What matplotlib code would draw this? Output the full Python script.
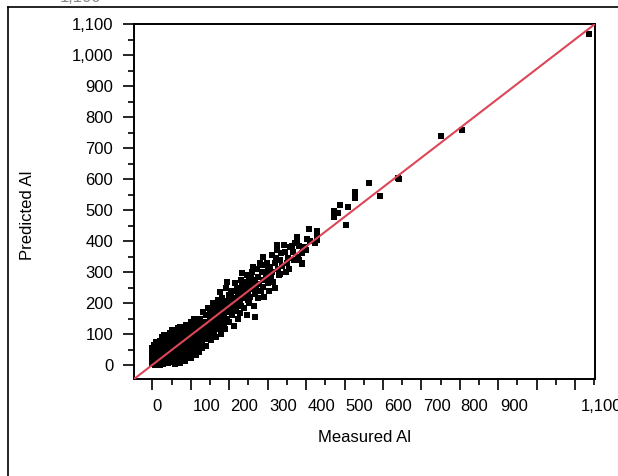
import numpy as np
import matplotlib
matplotlib.use('Agg')
import matplotlib.pyplot as plt
from matplotlib.lines import Line2D
from matplotlib.ticker import MultipleLocator

plt.rcParams['font.family'] = ['Liberation Sans', 'DejaVu Sans']

# axis setup
x_range = [-48, 1152]
y_range = [-45, 1100]
x_ticks = [0, 100, 200, 300, 400, 500, 600, 700, 800, 900, 1000, 1100]
x_tick_labels = ['0', '100', '200', '300', '400', '500', '600', '700', '800', '900', '1,100']
x_label_pos = [12, 142, 238, 340, 439, 538, 640, 741, 837, 941, 1168]
y_ticks = [0, 100, 200, 300, 400, 500, 600, 700, 800, 900, 1000, 1100]
y_tick_labels = ['0', '100', '200', '300', '400', '500', '600', '700', '800', '900', '1,000', '1,100']

# fitted line (corner to corner)
fit_x = [-48, 1152]
fit_y = [-45, 1100]

# dense cloud near the origin (measured, predicted)
core_points = [
    (0, 2), (0, 12), (0, 23), (0, 34), (0, 45), (0, 56),
    (6, 0), (6, 10), (6, 20), (6, 31), (6, 42), (6, 52), (6, 63),
    (13, 1), (13, 12), (13, 24), (13, 35), (13, 46), (13, 57), (13, 68),
    (20, 0), (20, 11), (20, 22), (20, 33), (20, 44), (20, 55), (20, 66), (20, 78),
    (27, 3), (27, 14), (27, 25), (27, 37), (27, 48), (27, 59), (27, 70), (27, 84),
    (34, 5), (34, 16), (34, 28), (34, 39), (34, 50), (34, 61), (34, 73), (34, 88),
    (41, 6), (41, 18), (41, 29), (41, 40), (41, 52), (41, 63), (41, 75), (41, 86), (41, 97),
    (48, 9), (48, 20), (48, 31), (48, 43), (48, 54), (48, 65), (48, 77), (48, 90),
    (55, 11), (55, 22), (55, 34), (55, 45), (55, 56), (55, 68), (55, 80), (55, 93), (55, 104),
    (62, 13), (62, 25), (62, 36), (62, 47), (62, 59), (62, 70), (62, 82), (62, 95),
    (69, 17), (69, 28), (69, 39), (69, 51), (69, 62), (69, 74), (69, 86), (69, 99), (69, 110),
    (76, 20), (76, 31), (76, 43), (76, 54), (76, 66), (76, 78), (76, 90), (76, 103),
    (83, 24), (83, 35), (83, 47), (83, 58), (83, 70), (83, 82), (83, 94), (83, 108), (83, 118),
    (90, 27), (90, 39), (90, 51), (90, 62), (90, 74), (90, 86), (90, 98), (90, 112),
    (97, 32), (97, 44), (97, 56), (97, 68), (97, 80), (97, 92), (97, 105), (97, 122),
    (104, 38), (104, 50), (104, 62), (104, 74), (104, 86), (104, 99), (104, 113), (104, 130),
    (111, 44), (111, 56), (111, 69), (111, 82), (111, 95), (111, 108), (111, 121),
    (118, 50), (118, 63), (118, 76), (118, 89), (118, 102), (118, 116), (118, 138),
    # ragged edges
    (3, 66), (10, 74), (24, 90), (31, 96), (45, 104), (52, 112), (59, 107), (66, 118),
    (73, 124), (80, 115), (87, 130), (94, 126), (101, 140), (108, 148), (115, 135),
    (58, 3), (72, 8), (86, 14), (100, 22), (114, 33), (122, 42), (128, 55),
]

# band from about 120 to 400
mid_points = [
    (120, 60), (120, 95), (120, 130), (124, 150), (128, 75), (130, 110), (132, 170),
    (136, 90), (138, 140), (140, 60), (142, 120), (145, 185), (148, 100), (150, 155),
    (152, 80), (155, 130), (158, 200), (160, 110), (162, 170), (165, 90), (168, 145),
    (170, 210), (172, 125), (175, 180), (176, 236), (178, 100), (180, 160), (182, 215),
    (185, 135), (188, 190), (190, 115), (192, 250), (193, 269), (195, 170), (198, 225),
    (200, 140), (202, 210), (204, 195), (206, 160), (208, 240), (210, 188), (212, 125),
    (215, 264), (216, 215), (218, 175), (220, 245), (222, 150), (225, 200), (228, 167),
    (228, 210), (230, 275), (232, 296), (234, 230), (236, 269), (238, 185), (240, 250),
    (242, 215), (245, 290), (246, 160), (248, 265), (250, 235), (252, 200), (254, 220),
    (256, 280), (258, 245), (260, 300), (262, 317), (262, 264), (264, 190), (266, 230),
    (267, 156), (268, 275), (270, 250), (272, 310), (274, 215), (276, 285), (278, 262),
    (280, 330), (282, 240), (285, 300), (287, 275), (289, 347), (289, 323), (289, 253),
    (291, 220), (295, 290), (297, 285), (298, 330), (300, 265), (302, 310), (304, 240),
    (306, 317), (308, 280), (310, 355), (312, 300), (315, 269), (318, 330), (320, 250),
    (322, 345), (325, 387), (325, 371), (327, 310), (330, 290), (332, 339), (332, 294),
    (335, 360), (338, 320), (342, 387), (345, 365), (347, 300), (349, 328), (352, 345),
    (355, 310), (358, 380), (362, 384), (365, 365), (368, 340), (370, 395), (375, 414),
    (375, 401), (378, 350), (382, 384), (382, 339), (389, 360), (389, 328), (392, 375),
    (396, 382), (400, 370),
    (122, 80), (126, 110), (126, 140), (130, 65), (134, 125), (138, 100), (140, 160),
    (144, 85), (146, 140), (150, 120), (150, 175), (154, 100), (156, 150), (160, 135),
    (160, 190), (164, 115), (166, 160), (170, 140), (172, 195), (174, 120), (178, 175),
    (180, 145), (184, 200), (186, 160), (190, 180), (194, 150), (196, 205), (200, 180),
    (204, 230), (208, 170), (212, 205), (214, 240), (218, 195), (222, 225), (226, 250),
    (230, 190), (234, 255), (238, 220), (244, 240), (248, 210), (252, 275), (256, 250),
]

# sparse high values
high_points = [
    (402, 406), (410, 401), (423, 395), (429, 403), (396, 382), (389, 362), (389, 326),
    (408, 439), (428, 433), (428, 425), (428, 414), (503, 451), (473, 497), (483, 489),
    (473, 476), (488, 515), (508, 509), (528, 559), (528, 540), (563, 586), (592, 546),
    (638, 604), (642, 599), (751, 739), (806, 758), (1137, 1068),
]

all_points = np.array(core_points + mid_points + high_points)

fig = plt.figure(figsize=(6.18, 4.76), dpi=100)
ax = fig.add_axes([134 / 618, 1 - 379 / 476, 461 / 618, 355 / 476])

ax.scatter(all_points[:, 0], all_points[:, 1], marker='s', s=13, color='black',
           linewidths=0, zorder=2)
ax.plot(fit_x, fit_y, color='#dc4657', linewidth=1.5, zorder=3)

ax.set_xlim(x_range)
ax.set_ylim(y_range)

ax.set_xticks(x_ticks)
ax.xaxis.set_minor_locator(MultipleLocator(50))
ax.tick_params(axis='x', labelbottom=False)
ax.set_yticks(y_ticks, labels=y_tick_labels)
ax.yaxis.set_minor_locator(MultipleLocator(50))
ax.tick_params(which='major', direction='out', length=8, width=1.2, labelsize=12, pad=7)
ax.tick_params(which='minor', direction='out', length=4.5, width=1.2)

for s in ax.spines.values():
    s.set_linewidth(1.4)

# x tick labels sit a bit off their ticks in the original
for pos, lab in zip(x_label_pos, x_tick_labels):
    ax.text(pos, -0.078, lab, transform=ax.get_xaxis_transform(),
            ha='center', va='center', fontsize=12)

ax.text(0.501, -0.166, 'Measured Al', transform=ax.transAxes,
        ha='center', va='center', fontsize=12)
ax.text(-0.232, 0.46, 'Predicted Al', transform=ax.transAxes,
        ha='center', va='center', rotation=90, fontsize=12)

# outer frame and the cut text at the very top
fig.add_artist(Line2D([8 / 618, 8 / 618], [0, 1 - 7 / 476], color='black', linewidth=1.2))
fig.add_artist(Line2D([8 / 618, 1], [1 - 7 / 476, 1 - 7 / 476], color='black', linewidth=1.2))
fig.text(60 / 618, 1 - 2 / 476, '1,100', ha='left', va='baseline', fontsize=12, color='#888888')

fig.savefig('out.png', dpi=100)
